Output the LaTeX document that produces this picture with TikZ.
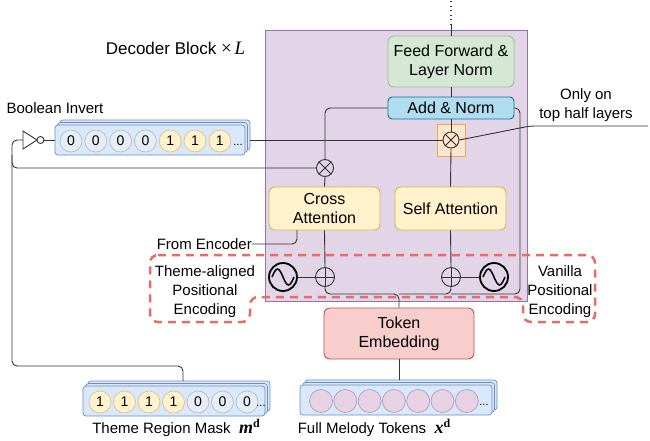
\documentclass[tikz,border=0pt]{standalone}
\usepackage{fontspec}
\setmainfont{Liberation Sans}
\newfontfamily\serifm{Liberation Serif}
\usetikzlibrary{calc}
\definecolor{purf}{HTML}{E1D5E7}
\definecolor{purd}{HTML}{9673A6}
\definecolor{grnf}{HTML}{D5E8D4}
\definecolor{grnd}{HTML}{9CC08C}
\definecolor{bluf}{HTML}{B1DDF0}
\definecolor{blud}{HTML}{10739E}
\definecolor{yelf}{HTML}{FFF2CC}
\definecolor{yeld}{HTML}{D6B656}
\definecolor{orgf}{HTML}{FFE6CC}
\definecolor{orgd}{HTML}{E0A860}
\definecolor{redf}{HTML}{F8CECC}
\definecolor{redd}{HTML}{B85450}
\definecolor{dashc}{HTML}{EA6B66}
\definecolor{stkf}{HTML}{DAE8FC}
\definecolor{stkd}{HTML}{6C8EBF}
\definecolor{zerf}{HTML}{E6EDF5}
\definecolor{zerd}{HTML}{B4BCC6}
\definecolor{onef}{HTML}{FFF2CC}
\definecolor{oned}{HTML}{D8C38E}
\definecolor{melf}{HTML}{E6D2E2}
\definecolor{meld}{HTML}{B29CC0}
\definecolor{linec}{HTML}{333333}
\newcommand{\vecsym}[1]{{\serifm\bfseries\itshape\fontsize{18}{18}\selectfont #1}\raisebox{6pt}{\serifm\bfseries\fontsize{12}{12}\selectfont d}}
\begin{document}
\begin{tikzpicture}[x=1pt,y=-1pt,
  txt/.style={font=\fontsize{15}{19}\selectfont, align=center, inner sep=0},
  blk/.style={draw, rounded corners=6pt, inner sep=0, line width=0.9pt, align=center, font=\fontsize{16}{19}\selectfont},
  conn/.style={draw=linec, line width=0.9pt, rounded corners=5pt},
  opc/.style={circle, draw=linec, line width=0.9pt, inner sep=0},
  sinec/.style={circle, draw=black, line width=1.8pt, minimum size=28pt, inner sep=0},
  layer/.style={draw=stkd, fill=stkf, rounded corners=3pt, inner sep=0, minimum height=30pt, line width=0.7pt},
  tokz/.style={circle, draw=zerd, fill=zerf, minimum size=22pt, inner sep=0, line width=0.7pt, font=\fontsize{14}{14}\selectfont},
  toko/.style={circle, draw=oned, fill=onef, minimum size=22pt, inner sep=0, line width=0.7pt, font=\fontsize{14}{14}\selectfont},
  tokm/.style={circle, draw=meld, fill=melf, minimum size=23pt, inner sep=0, line width=0.7pt},
  dotsl/.style={font=\fontsize{11}{11}\selectfont, inner sep=0}
]
\useasboundingbox (0,0) rectangle (650,440);

% decoder block
\node[draw=purd, fill=purf, line width=0.9pt, minimum width=262pt, minimum height=271pt, inner sep=0, anchor=north west] (dec) at (265,30) {};
\node[txt, font=\fontsize{17}{20}\selectfont] (dectxt) at (175.5,48) {Decoder Block {\serifm\fontsize{19}{19}\selectfont×}\,{\serifm\itshape\fontsize{19}{19}\selectfont L}};

% main blocks
\node[blk, draw=grnd, fill=grnf, minimum width=126pt, minimum height=51pt] (ff) at (451,61.5) {Feed Forward \&\\Layer Norm};
\node[blk, draw=blud, fill=bluf, minimum width=126pt, minimum height=22pt, rounded corners=4pt] (add) at (451,108) {Add \& Norm};
\node[draw=orgd, fill=orgf, line width=0.8pt, minimum width=28pt, minimum height=32pt, inner sep=0] (osq) at (451,140) {};
\node[opc, minimum size=16pt] (om) at (451,140) {};
\draw[linec, line width=0.9pt] (om.north west) -- (om.south east) (om.north east) -- (om.south west);

\node[blk, draw=yeld, fill=yelf, minimum width=111pt, minimum height=43pt] (ca) at (324.5,208.5) {Cross\\Attention};
\node[blk, draw=yeld, fill=yelf, minimum width=111pt, minimum height=43pt] (sa) at (450.5,208.5) {Self Attention};

\node[opc, minimum size=17pt] (xl) at (325,168) {};
\draw[linec, line width=0.9pt] (xl.north west) -- (xl.south east) (xl.north east) -- (xl.south west);

\node[opc, minimum size=19pt] (pL) at (325,277) {};
\draw[linec, line width=0.9pt] (pL.north) -- (pL.south) (pL.west) -- (pL.east);
\node[opc, minimum size=19pt] (pR) at (451,277) {};
\draw[linec, line width=0.9pt] (pR.north) -- (pR.south) (pR.west) -- (pR.east);

\node[sinec] (sL) at (283,277) {};
\draw[line width=1.5pt] ($(sL.center)+(-11,0)$) sin ++(5.5,-8) cos ++(5.5,8) sin ++(5.5,8) cos ++(5.5,-8);
\node[sinec] (sR) at (494,277) {};
\draw[line width=1.5pt] ($(sR.center)+(-11,0)$) sin ++(5.5,-8) cos ++(5.5,8) sin ++(5.5,8) cos ++(5.5,-8);

\node[blk, draw=redd, fill=redf, minimum width=150pt, minimum height=51pt] (te) at (399,333.5) {Token\\Embedding};

% top boolean stack
\node[layer, minimum width=190pt] (boolB) at (155,135) {};
\node[layer, minimum width=190pt] (boolM) at (152.5,137.5) {};
\node[layer, minimum width=190pt] (boolF) at (150,140) {};
\foreach \v [count=\i from 0] in {0,0,0,0,1,1,1} {
  \ifnum\v=0
    \node[tokz] (b\i) at (71+24.8*\i,141) {\v};
  \else
    \node[toko] (b\i) at (71+24.8*\i,141) {\v};
  \fi
}
\node[dotsl] (bdots) at (238,145) {...};
\node[txt] (inv) at (55,108) {Boolean Invert};
\draw[linec, line width=0.9pt, fill=white] (23,131) -- (37,140) -- (23,149) -- cycle;
\coordinate (invin) at (23,140);
\node[circle, draw=linec, line width=0.9pt, fill=white, minimum size=7pt, inner sep=0] (bub) at (40.5,140) {};

% mask stack
\node[layer, minimum width=182pt] (maskB) at (179,396) {};
\node[layer, minimum width=182pt] (maskM) at (176.5,398.5) {};
\node[layer, minimum width=182pt] (maskF) at (174,401) {};
\foreach \v [count=\i from 0] in {1,1,1,1,0,0,0} {
  \ifnum\v=0
    \node[tokz] (m\i) at (100+24.5*\i,402) {\v};
  \else
    \node[toko] (m\i) at (100+24.5*\i,402) {\v};
  \fi
}
\node[dotsl] (mdots) at (261,406) {...};
\node[txt] (masktxt) at (176,428) {Theme Region Mask\ \ \vecsym{m}};

% melody stack
\node[layer, minimum width=192pt] (melB) at (401,395) {};
\node[layer, minimum width=192pt] (melM) at (398.5,397.5) {};
\node[layer, minimum width=192pt] (melF) at (396,400) {};
\foreach \i in {0,...,6} {
  \node[tokm] (x\i) at (321+24.3*\i,401) {};
}
\node[dotsl] (xdots) at (484,405) {...};
\node[txt] (meltxt) at (374,428) {Full Melody Tokens\ \ \vecsym{x}};

% labels
\node[txt] (fe) [anchor=east] at (252,244) {From Encoder};
\node[txt] (only) at (586,105) {Only on\\top half layers};
\node[txt] (tapl) at (205,292) {Theme-aligned\\Positional\\Encoding};
\node[txt] (vpl) at (560,292) {Vanilla\\Positional\\Encoding};

% coordinates
\coordinate (topA) at (451,1);
\coordinate (topB) at (451,24);
\coordinate (rB) at (520,294);
\coordinate (jR) at (451,294);
\coordinate (jc) at (399,294);
\coordinate (caE) at (297,230);
\coordinate (lA) at (12,140);
\coordinate (lB) at (12,366);
\coordinate (lC) at (12,155);
\coordinate (mT) at (183,381);
\coordinate (oA) at (530,126);
\coordinate (oB) at (648,126);

% connectors
\draw[linec, line width=1.3pt, dash pattern=on 1.3pt off 3.2pt] (topA) -- (topB);
\draw[conn] (topB) -- (ff.north);
\draw[conn] (ff.south) -- (add.north);
\draw[conn] (add.south) -- (om.north);
\draw[conn] (om.south) -- (sa.north);
\draw[conn] (add.west) -| (xl.north);
\draw[conn] (xl.south) -- (ca.north);
\draw[conn] (add.east) -| (rB) -- (jR);
\draw[conn] (ca.south) -- (pL.north);
\draw[conn] (sa.south) -- (pR.north);
\draw[conn] (sL.east) -- (pL.west);
\draw[conn] (sR.west) -- (pR.east);
\draw[conn] (te.north) -- (jc) -| (pL.south);
\draw[conn] (jc) -| (pR.south);
\draw[conn] (te.south) -- (te.south |- melB.north);
\draw[conn] (fe.east) -| (caE);
\draw[conn] (boolF.east -| boolB.east) -- (om.west);
\draw[conn] (om.east) -- (oA) -- (oB);
\draw[conn] (bub.east) -- (boolF.west);
\draw[conn] (invin) -- (lA) -- (lB) -| (mT);
\draw[conn] (lC) |- (xl.west);

% dashed positional encoding outline
\draw[dashc, line width=2.5pt, dash pattern=on 8pt off 6pt, rounded corners=8pt]
  (150,255) -- (595,255) -- (595,322) -- (523,322) -- (523,297) -- (250,297) -- (250,322) -- (150,322) -- cycle;
\end{tikzpicture}
\end{document}
